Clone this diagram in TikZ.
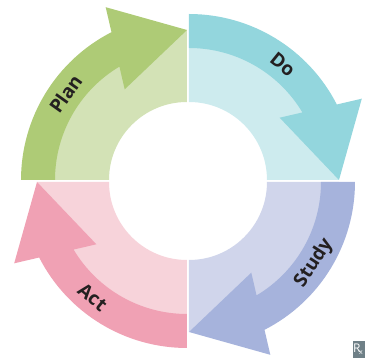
\documentclass[tikz,border=0pt]{standalone}
\usepackage{fontspec}
\setmainfont{Open Sans}
\usetikzlibrary{calc}
\definecolor{plandark}{RGB}{174,203,118}
\definecolor{planlight}{RGB}{211,226,182}
\definecolor{dodark}{RGB}{147,214,221}
\definecolor{dolight}{RGB}{205,235,238}
\definecolor{studydark}{RGB}{166,179,220}
\definecolor{studylight}{RGB}{208,213,235}
\definecolor{actdark}{RGB}{240,161,180}
\definecolor{actlight}{RGB}{247,211,218}
\definecolor{labeltext}{RGB}{35,31,32}
\definecolor{logogray}{RGB}{111,128,135}
\newcommand\pdsaquad[5]{%
  \begin{scope}[shift={(#1,#2)},rotate=#3]
    \fill[#5] (0:78) -- (0:150) arc[start angle=0,end angle=90,radius=150]
      -- (90:78) arc[start angle=90,end angle=0,radius=78] -- cycle;
    \fill[#4] (90:166) arc[start angle=90,end angle=27.06,radius=166]
      -- (25.2:191) -- (0:150) -- (34.5:110) -- (30.79:132)
      arc[start angle=30.79,end angle=90,radius=132] -- cycle;
  \end{scope}}
\tikzset{steplabel/.style={font=\bfseries\fontsize{19}{19}\selectfont,text=labeltext,inner sep=0pt}}
\begin{document}
\begin{tikzpicture}[x=1pt,y=1pt]
\useasboundingbox (-188,-177) rectangle (177,181);
\pdsaquad{-1}{1}{90}{plandark}{planlight}
\pdsaquad{1}{1}{0}{dodark}{dolight}
\pdsaquad{1}{-1}{-90}{studydark}{studylight}
\pdsaquad{-1}{-1}{180}{actdark}{actlight}
\node[steplabel,rotate=54.6] (plan) at ($(-1,1)+(144.6:149)$) {Plan};
\node[steplabel,rotate=-39] (do) at ($(1,1)+(51:149)$) {Do};
\node[steplabel,rotate=57] (study) at ($(1,-1)+(-33:149)$) {Study};
\node[steplabel,rotate=-39.3] (act) at ($(-1,-1)+(230.7:149)$) {Act};
\fill[logogray] (165,-160) rectangle (177,-177);
\node[text=white,font=\fontsize{12}{12}\selectfont,inner sep=0pt] (logo) at (170,-168) {R\kern-1.5pt\raisebox{-2.5pt}{\fontsize{7}{7}\selectfont x}};
\end{tikzpicture}
\end{document}
